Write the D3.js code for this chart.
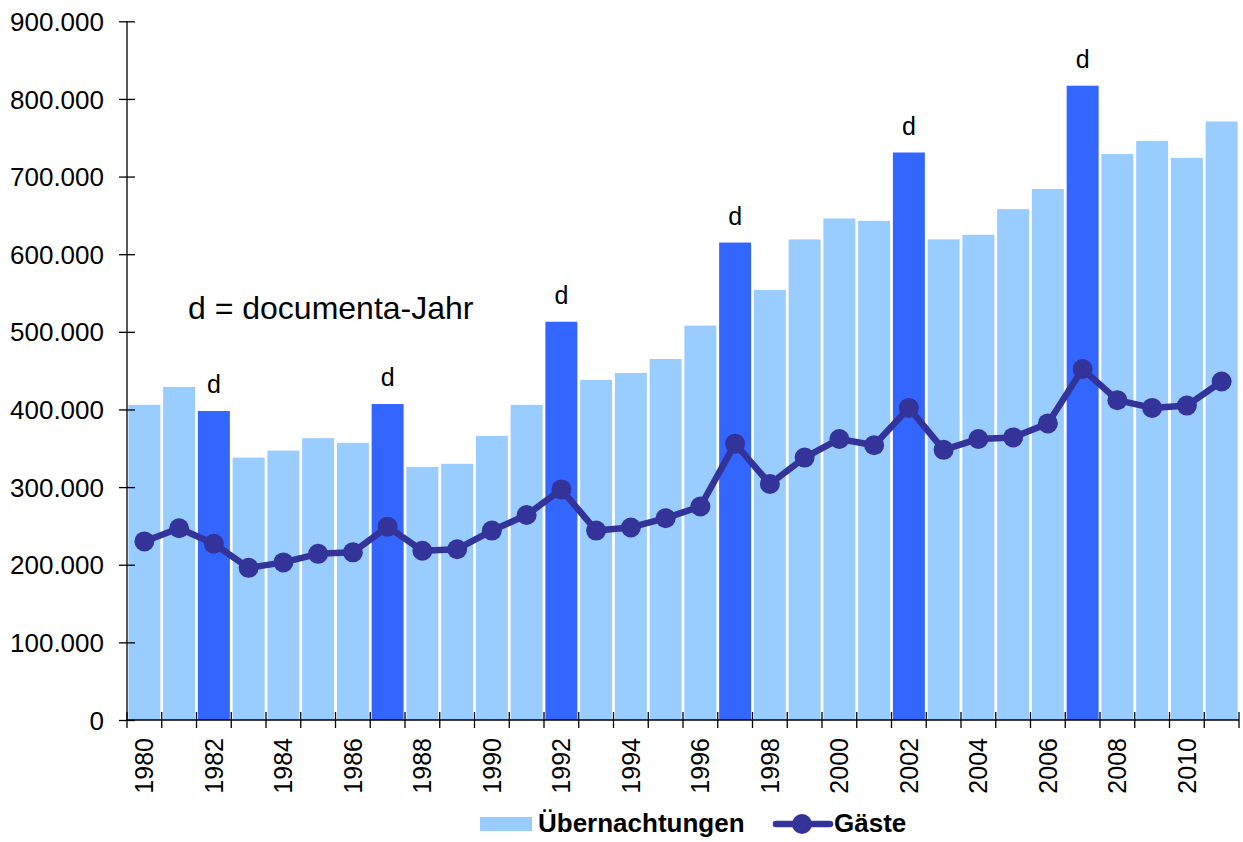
<!DOCTYPE html>
<html>
<head>
<meta charset="utf-8">
<script src="https://cdn.jsdelivr.net/npm/d3@7"></script>
<style>
  html, body { margin: 0; padding: 0; background: #fff; }
  svg { display: block; font-family: Arial, "Liberation Sans", sans-serif; }
</style>
</head>
<body>
<svg id="chart" width="1243" height="842"></svg>
<script>
// --- data ---
const years = d3.range(1980, 2012);
const uebernachtungen = [406000, 429000, 398000, 338000, 347000, 363000, 357000, 407000,
  326000, 330000, 366000, 406000, 513000, 438000, 447000, 465000, 508000, 615000,
  554000, 619000, 646000, 643000, 731000, 619000, 625000, 658000, 684000, 817000,
  729000, 746000, 724000, 771000];
const gaeste = [230000, 247000, 227000, 196000, 203000, 214000, 216000, 249000,
  218000, 220000, 244000, 264000, 297000, 244000, 248000, 260000, 275000, 356000,
  304000, 338000, 362000, 354000, 402000, 348000, 362000, 364000, 382000, 452000,
  412000, 402000, 405000, 436000];
const documentaYears = [1982, 1987, 1992, 1997, 2002, 2007];
const yTicks = [0, 100000, 200000, 300000, 400000, 500000, 600000, 700000, 800000, 900000];
const labelYears = years.filter(y => y % 2 === 0);

const data = years.map((y, i) => ({ year: y, night: uebernachtungen[i], guests: gaeste[i] }));

// --- layout ---
const W = 1243, H = 842;
const m = { left: 127, right: 4, top: 21.3, bottom: 122 };
const svg = d3.select('#chart');

const x = d3.scaleBand()
  .domain(years)
  .range([m.left, W - m.right])
  .paddingInner(0.08)
  .paddingOuter(0.04);

const y = d3.scaleLinear()
  .domain([0, 900000])
  .range([H - m.bottom, m.top]);

const fmt = v => v === 0 ? '0' : d3.format(',')(v).replace(/,/g, '.');

// bars
svg.append('g').selectAll('rect')
  .data(data).join('rect')
  .attr('x', d => x(d.year))
  .attr('y', d => y(d.night))
  .attr('width', x.bandwidth())
  .attr('height', d => y(0) - y(d.night))
  .attr('fill', d => documentaYears.includes(d.year) ? '#3366FF' : '#99CCFF');

// "d" marks over documenta years
svg.append('g').selectAll('text')
  .data(data.filter(d => documentaYears.includes(d.year))).join('text')
  .attr('x', d => x(d.year) + x.bandwidth() / 2)
  .attr('y', d => y(d.night) - 18)
  .attr('text-anchor', 'middle')
  .attr('font-size', 25)
  .text('d');

// y axis
const yAxis = svg.append('g')
  .attr('transform', `translate(${m.left},0)`)
  .call(d3.axisLeft(y).tickValues(yTicks).tickFormat(fmt).tickSize(8).tickPadding(0));
yAxis.select('.domain').attr('d', `M0,${y(0)}V${y(900000)}`).attr('stroke', '#000').attr('stroke-width', 1.3);
yAxis.selectAll('.tick line').attr('x1', -8).attr('x2', 8).attr('stroke', '#000').attr('stroke-width', 1.3);
yAxis.selectAll('.tick text')
  .attr('x', -23).attr('dy', '0.35em')
  .attr('font-size', 26).attr('fill', '#000');

// x axis: line, ticks at band edges, labels every other year
const step = x.step();
const xEdges = years.map(yr => x(yr) - step * x.paddingInner() / 2).concat([W - m.right]);
const xg = svg.append('g');
xg.append('line')
  .attr('x1', m.left).attr('x2', W - m.right)
  .attr('y1', y(0)).attr('y2', y(0))
  .attr('stroke', '#000').attr('stroke-width', 1.3);
xg.selectAll('line.tk')
  .data(xEdges).join('line').attr('class', 'tk')
  .attr('x1', d => d).attr('x2', d => d)
  .attr('y1', y(0) - 8).attr('y2', y(0) + 8)
  .attr('stroke', '#000').attr('stroke-width', 1.3);
xg.selectAll('text')
  .data(labelYears).join('text')
  .attr('transform', d => `translate(${x(d) + x.bandwidth() / 2},${y(0) + 18}) rotate(-90)`)
  .attr('text-anchor', 'end')
  .attr('dy', '0.35em')
  .attr('font-size', 25)
  .text(d => d);

// Gäste line
const line = d3.line()
  .x(d => x(d.year) + x.bandwidth() / 2)
  .y(d => y(d.guests));
svg.append('path')
  .datum(data)
  .attr('d', line)
  .attr('fill', 'none')
  .attr('stroke', '#333399')
  .attr('stroke-width', 6.5)
  .attr('stroke-linejoin', 'round');
svg.append('g').selectAll('circle')
  .data(data).join('circle')
  .attr('cx', d => x(d.year) + x.bandwidth() / 2)
  .attr('cy', d => y(d.guests))
  .attr('r', 10)
  .attr('fill', '#333399');

// annotation
svg.append('text')
  .attr('x', 188).attr('y', 319)
  .attr('font-size', 32)
  .text('d = documenta-Jahr');

// legend
const lg = svg.append('g').attr('font-size', 26).attr('font-weight', 'bold');
lg.append('rect').attr('x', 480).attr('y', 817).attr('width', 52).attr('height', 14).attr('fill', '#99CCFF');
lg.append('text').attr('x', 538).attr('y', 832).text('Übernachtungen');
lg.append('line').attr('x1', 776).attr('x2', 830).attr('y1', 824).attr('y2', 824)
  .attr('stroke', '#333399').attr('stroke-width', 6.5).attr('stroke-linecap', 'round');
lg.append('circle').attr('cx', 802).attr('cy', 824).attr('r', 10).attr('fill', '#333399');
lg.append('text').attr('x', 834).attr('y', 832).text('Gäste');
</script>
</body>
</html>
